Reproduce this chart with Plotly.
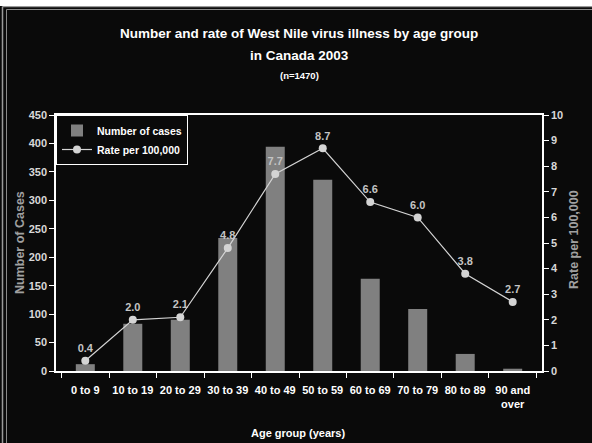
"""
West Nile virus illness by age group, Canada 2003 — bars + rate line.
"""

import plotly.graph_objects as go

# ── data ──────────────────────────────────────────────────────────────────────

age_groups = ["0 to 9", "10 to 19", "20 to 29", "30 to 39", "40 to 49",
              "50 to 59", "60 to 69", "70 to 79", "80 to 89", "90 and<br>over"]
cases = [12, 83, 90, 234, 394, 336, 162, 109, 30, 4]
rate_per_100k = [0.4, 2.0, 2.1, 4.8, 7.7, 8.7, 6.6, 6.0, 3.8, 2.7]

left_ticks = list(range(0, 451, 50))
right_ticks = list(range(0, 11))

# ── styling ───────────────────────────────────────────────────────────────────

FONT = "Liberation Sans, Arial, sans-serif"
BG = "#0a0a0a"
BAR = "#808080"
LINE = "#d4d4d4"
TICK_TXT = "#d8d8d8"
AXIS_TTL = "#a0a0a0"

# white strip above the figure (page body margin), then the figure itself
TOP_GAP = 6
W, H = 592, 443 - TOP_GAP

# plot area in window pixels: x 56..542, y 115..371
L, R, T, B = 56, 50, 115 - TOP_GAP, 72
PW, PH = W - L - R, H - T - B


def px_x(px):
    return (px - L) / PW


def px_y(py):
    # py is measured in window pixels
    return (H - B - (py - TOP_GAP)) / PH


def bold(size, color):
    return dict(family=FONT, size=size, color=color, weight="bold")


fig = go.Figure()

fig.add_trace(
    go.Bar(
        x=age_groups,
        y=cases,
        name="Number of cases",
        marker=dict(color=BAR, line=dict(width=0)),
        width=0.4,
        yaxis="y",
    )
)

fig.add_trace(
    go.Scatter(
        x=age_groups,
        y=rate_per_100k,
        name="Rate per 100,000",
        mode="lines+markers+text",
        line=dict(color=LINE, width=1.2),
        marker=dict(color=LINE, size=8),
        text=[f"{v:.1f}" for v in rate_per_100k],
        textposition="top center",
        textfont=bold(11, "#c4c4c4"),
        yaxis="y2",
        cliponaxis=False,
    )
)

# title lines
titles = [
    ("Number and rate of West Nile virus illness by age group", 13.5, 33),
    ("in Canada 2003", 13.5, 55),
    ("(n=1470)", 9.5, 75),
]
for txt, size, py in titles:
    fig.add_annotation(
        text=txt, xref="paper", yref="paper",
        x=px_x(299), y=px_y(py), xanchor="center", yanchor="middle",
        showarrow=False, font=bold(size, "white"),
    )

# axis titles placed by pixel
axis_titles = [
    ("Number of Cases", 20, 243, -90, AXIS_TTL, 12.5),
    ("Rate per 100,000", 574, 240, -90, AXIS_TTL, 12.5),
    ("Age group (years)", 298, 433, 0, "white", 11),
]
for txt, px, py, ang, col, size in axis_titles:
    fig.add_annotation(
        text=txt, xref="paper", yref="paper",
        x=px_x(px), y=px_y(py), xanchor="center", yanchor="middle",
        textangle=ang, showarrow=False, font=bold(size, col),
    )

# double grey border along the top and left of the image
shapes = [
    dict(type="line", xref="paper", yref="paper",
         x0=px_x(2.5), x1=px_x(592), y0=px_y(6.5), y1=px_y(6.5),
         line=dict(color="#9a9a9a", width=1.5)),
    dict(type="line", xref="paper", yref="paper",
         x0=px_x(2.5), x1=px_x(2.5), y0=px_y(6.5), y1=px_y(443),
         line=dict(color="#9a9a9a", width=1.5)),
    dict(type="line", xref="paper", yref="paper",
         x0=px_x(6.5), x1=px_x(592), y0=px_y(9.5), y1=px_y(9.5),
         line=dict(color="#8a8a8a", width=1)),
    dict(type="line", xref="paper", yref="paper",
         x0=px_x(6.5), x1=px_x(6.5), y0=px_y(9.5), y1=px_y(443),
         line=dict(color="#8a8a8a", width=1)),
]

axis_common = dict(
    showline=True, linecolor="white", linewidth=1.5,
    ticks="outside", ticklen=5, tickcolor="white",
    showgrid=False, zeroline=False, automargin=False,
)

fig.update_layout(
    width=W,
    height=H,
    margin=dict(l=L, r=R, t=T, b=B, autoexpand=False),
    paper_bgcolor=BG,
    plot_bgcolor=BG,
    font=bold(11, TICK_TXT),
    showlegend=True,
    shapes=shapes,
    legend=dict(
        x=0, y=1, xanchor="left", yanchor="top",
        bgcolor=BG, bordercolor="white", borderwidth=1,
        font=bold(10.5, "white"),
        tracegroupgap=0, itemwidth=30,
    ),
    xaxis=dict(
        **axis_common, mirror=True, tickson="boundaries", tickangle=0,
        ticklabelstandoff=8,
        tickfont=bold(11, "white"),
    ),
    yaxis=dict(
        **axis_common, range=[0, 450], tickvals=left_ticks,
        tickfont=bold(11, TICK_TXT),
    ),
    yaxis2=dict(
        **axis_common, range=[0, 10], tickvals=right_ticks,
        overlaying="y", side="right",
        tickfont=bold(11, TICK_TXT),
    ),
)

# page body: white strip on top, no other margin
fig.write_html(
    "out.html",
    config={"displayModeBar": False},
    post_script=(
        "document.body.style.margin='0px';"
        "document.body.style.paddingTop='%dpx';"
        "document.body.style.background='white';" % TOP_GAP
    ),
)
